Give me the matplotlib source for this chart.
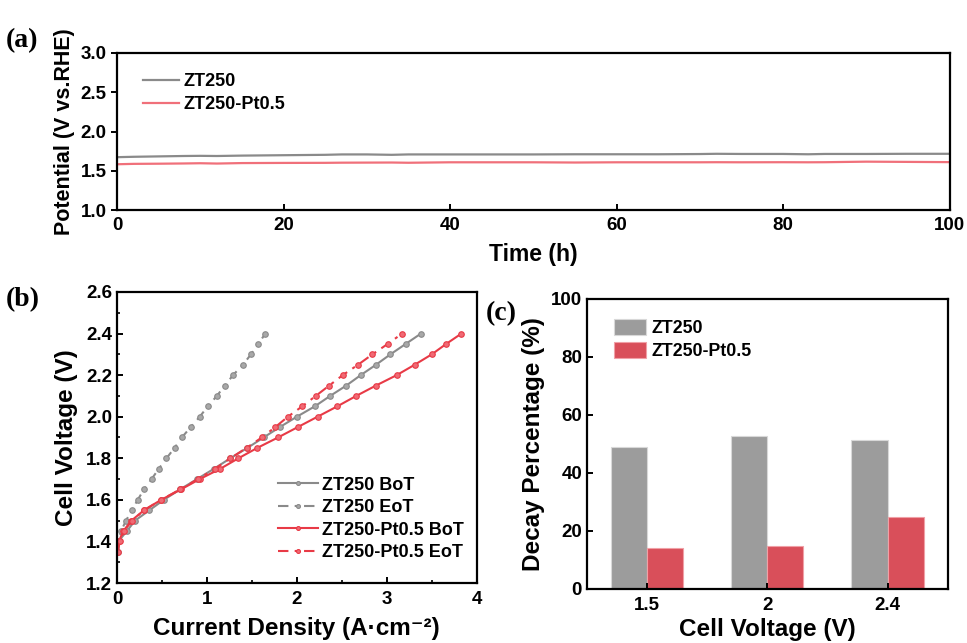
import numpy as np
import matplotlib
matplotlib.use("Agg")
import matplotlib.pyplot as plt
from matplotlib.ticker import MultipleLocator

plt.rcParams['font.family'] = ['Liberation Sans', 'DejaVu Sans']
plt.rcParams['font.weight'] = 'bold'
plt.rcParams['axes.labelweight'] = 'bold'
plt.rcParams['axes.linewidth'] = 1.6

# ---- (a) stability test
time_h = [0, 2, 5, 8, 10, 12, 15, 20, 25, 27, 30, 33, 35, 40, 45, 50, 55, 60,
          65, 70, 72, 75, 80, 83, 85, 90, 95, 100]
pot_zt250 = [1.675, 1.680, 1.685, 1.690, 1.692, 1.690, 1.695, 1.700, 1.705, 1.710,
             1.710, 1.705, 1.710, 1.710, 1.710, 1.710, 1.712, 1.712, 1.712, 1.715,
             1.718, 1.716, 1.716, 1.712, 1.716, 1.716, 1.718, 1.718]
pot_pt05 = [1.585, 1.590, 1.592, 1.595, 1.598, 1.594, 1.600, 1.602, 1.603, 1.605,
            1.606, 1.607, 1.604, 1.610, 1.610, 1.610, 1.607, 1.610, 1.610, 1.610,
            1.611, 1.610, 1.611, 1.610, 1.611, 1.618, 1.615, 1.612]

# ---- (b) polarization curves
v_eot = [1.35, 1.40, 1.45, 1.50, 1.55, 1.60, 1.65, 1.70, 1.75, 1.80, 1.85, 1.90,
         1.95, 2.00, 2.05, 2.10, 2.15, 2.20, 2.25, 2.30, 2.35, 2.40]
j_zt250_eot = [0.015, 0.025, 0.045, 0.10, 0.165, 0.23, 0.30, 0.385, 0.465, 0.55,
               0.64, 0.72, 0.82, 0.92, 1.01, 1.11, 1.20, 1.29, 1.40, 1.49, 1.57, 1.65]
v_bot = [1.40, 1.45, 1.50, 1.55, 1.60, 1.65, 1.70, 1.75, 1.80, 1.85, 1.90, 1.95,
         2.00, 2.05, 2.10, 2.15, 2.20, 2.25, 2.30, 2.35, 2.40]
j_zt250_bot = [0.015, 0.11, 0.20, 0.36, 0.52, 0.70, 0.89, 1.08, 1.26, 1.45, 1.63,
               1.81, 2.00, 2.20, 2.37, 2.55, 2.71, 2.88, 3.04, 3.21, 3.38]
j_pt05_bot = [0.02, 0.07, 0.16, 0.30, 0.49, 0.71, 0.92, 1.15, 1.35, 1.56, 1.79,
              2.01, 2.23, 2.45, 2.66, 2.88, 3.11, 3.31, 3.50, 3.66, 3.83]
j_pt05_eot = [0.01, 0.03, 0.075, 0.17, 0.30, 0.49, 0.70, 0.90, 1.09, 1.26, 1.44,
              1.61, 1.76, 1.90, 2.06, 2.21, 2.36, 2.51, 2.68, 2.84, 3.01, 3.17]

# ---- (c) decay percentage
cell_v = ['1.5', '2', '2.4']
decay_zt250 = [48.8, 52.9, 51.3]
decay_pt05 = [14.3, 14.8, 24.7]

gray = '#8a8a8a'
red_a = '#f0707a'
red = '#e83a46'
bar_gray = '#9c9c9c'
bar_red = '#d94f5a'

fig = plt.figure(figsize=(9.67, 6.43), dpi=100)

# (a)
ax1 = fig.add_axes([0.121, 0.673, 0.861, 0.2446])
ax1.plot(time_h, pot_zt250, color=gray, lw=1.6, label='ZT250')
ax1.plot(time_h, pot_pt05, color=red_a, lw=1.6, label='ZT250-Pt0.5')
ax1.set_xlim(0, 100)
ax1.set_ylim(1.0, 3.0)
ax1.xaxis.set_major_locator(MultipleLocator(20))
ax1.yaxis.set_major_locator(MultipleLocator(0.5))
ax1.tick_params(axis='x', direction='in', length=4, width=1.4, labelsize=13.5, pad=5)
ax1.tick_params(axis='y', direction='out', length=4, width=1.4, labelsize=13.5)
ax1.set_xlabel('Time (h)', fontsize=16.5, labelpad=6)
ax1.set_ylabel('Potential (V vs.RHE)', fontsize=15.5, labelpad=4)
ax1.legend(loc='upper left', bbox_to_anchor=(0.012, 0.975), frameon=False,
           fontsize=13, handlelength=2.0, handletextpad=0.25, labelspacing=0.35)

# (b)
ax2 = fig.add_axes([0.121, 0.0933, 0.372, 0.4526])
mk = dict(marker='o', markersize=4, markeredgewidth=0.8)
dashdot = (0, (5, 3, 1.5, 3))
ax2.plot(j_zt250_bot, v_bot, color=gray, lw=1.5, mfc='#a8a8a8', mec=gray,
         label='ZT250 BoT', **mk)
ax2.plot(j_zt250_eot, v_eot, color=gray, lw=1.5, ls=dashdot, mfc='#a8a8a8', mec=gray,
         label='ZT250 EoT', **mk)
ax2.plot(j_pt05_bot, v_bot, color=red, lw=1.5, mfc='#f06a74', mec=red,
         label='ZT250-Pt0.5 BoT', **mk)
ax2.plot(j_pt05_eot, v_eot, color=red, lw=1.5, ls=dashdot, mfc='#f06a74', mec=red,
         label='ZT250-Pt0.5 EoT', **mk)
ax2.set_xlim(0, 4)
ax2.set_ylim(1.2, 2.6)
ax2.xaxis.set_major_locator(MultipleLocator(1))
ax2.xaxis.set_minor_locator(MultipleLocator(0.5))
ax2.yaxis.set_major_locator(MultipleLocator(0.2))
ax2.yaxis.set_minor_locator(MultipleLocator(0.1))
ax2.tick_params(which='major', direction='in', length=4, width=1.4, labelsize=13.5)
ax2.tick_params(which='minor', direction='in', length=2.5, width=1.2)
ax2.tick_params(axis='x', pad=6)
ax2.set_xlabel('Current Density (A·cm⁻²)', fontsize=17.5, labelpad=6)
ax2.set_ylabel('Cell Voltage (V)', fontsize=17.5, labelpad=6)
ax2.legend(loc='lower right', bbox_to_anchor=(1.01, 0.02), frameon=False, fontsize=13,
           handlelength=2.2, handletextpad=0.25, labelspacing=0.3, markerscale=0.7)

# (c)
ax3 = fig.add_axes([0.607, 0.084, 0.373, 0.451])
xpos = np.arange(1, len(cell_v) + 1)
w = 0.3
ax3.bar(xpos - w / 2, decay_zt250, width=w, color=bar_gray, edgecolor='#d8d8d8',
        lw=0.8, label='ZT250')
ax3.bar(xpos + w / 2, decay_pt05, width=w, color=bar_red, edgecolor='#f0a0a6',
        lw=0.8, label='ZT250-Pt0.5')
ax3.set_xlim(0.5, 3.5)
ax3.set_ylim(0, 100)
ax3.set_xticks(xpos)
ax3.set_xticklabels(cell_v)
ax3.yaxis.set_major_locator(MultipleLocator(20))
ax3.tick_params(direction='in', length=4, width=1.4, labelsize=13.5)
ax3.tick_params(axis='x', pad=6)
ax3.set_xlabel('Cell Voltage (V)', fontsize=17.5, labelpad=3)
ax3.set_ylabel('Decay Percentage (%)', fontsize=17.5, labelpad=4)
ax3.legend(loc='upper left', bbox_to_anchor=(0.03, 0.985), frameon=False, fontsize=12.8,
           handlelength=1.8, handleheight=0.95, handletextpad=0.3, labelspacing=0.3)

# panel tags
tag = dict(fontsize=20, fontweight='bold', family=['Liberation Serif', 'DejaVu Serif'],
           va='center', ha='left')
fig.text(0.006, 1 - 41 / 643, '(a)', **tag)
fig.text(0.006, 1 - 300 / 643, '(b)', **tag)
fig.text(0.502, 1 - 314 / 643, '(c)', **tag)

fig.savefig('out.png', dpi=100)
